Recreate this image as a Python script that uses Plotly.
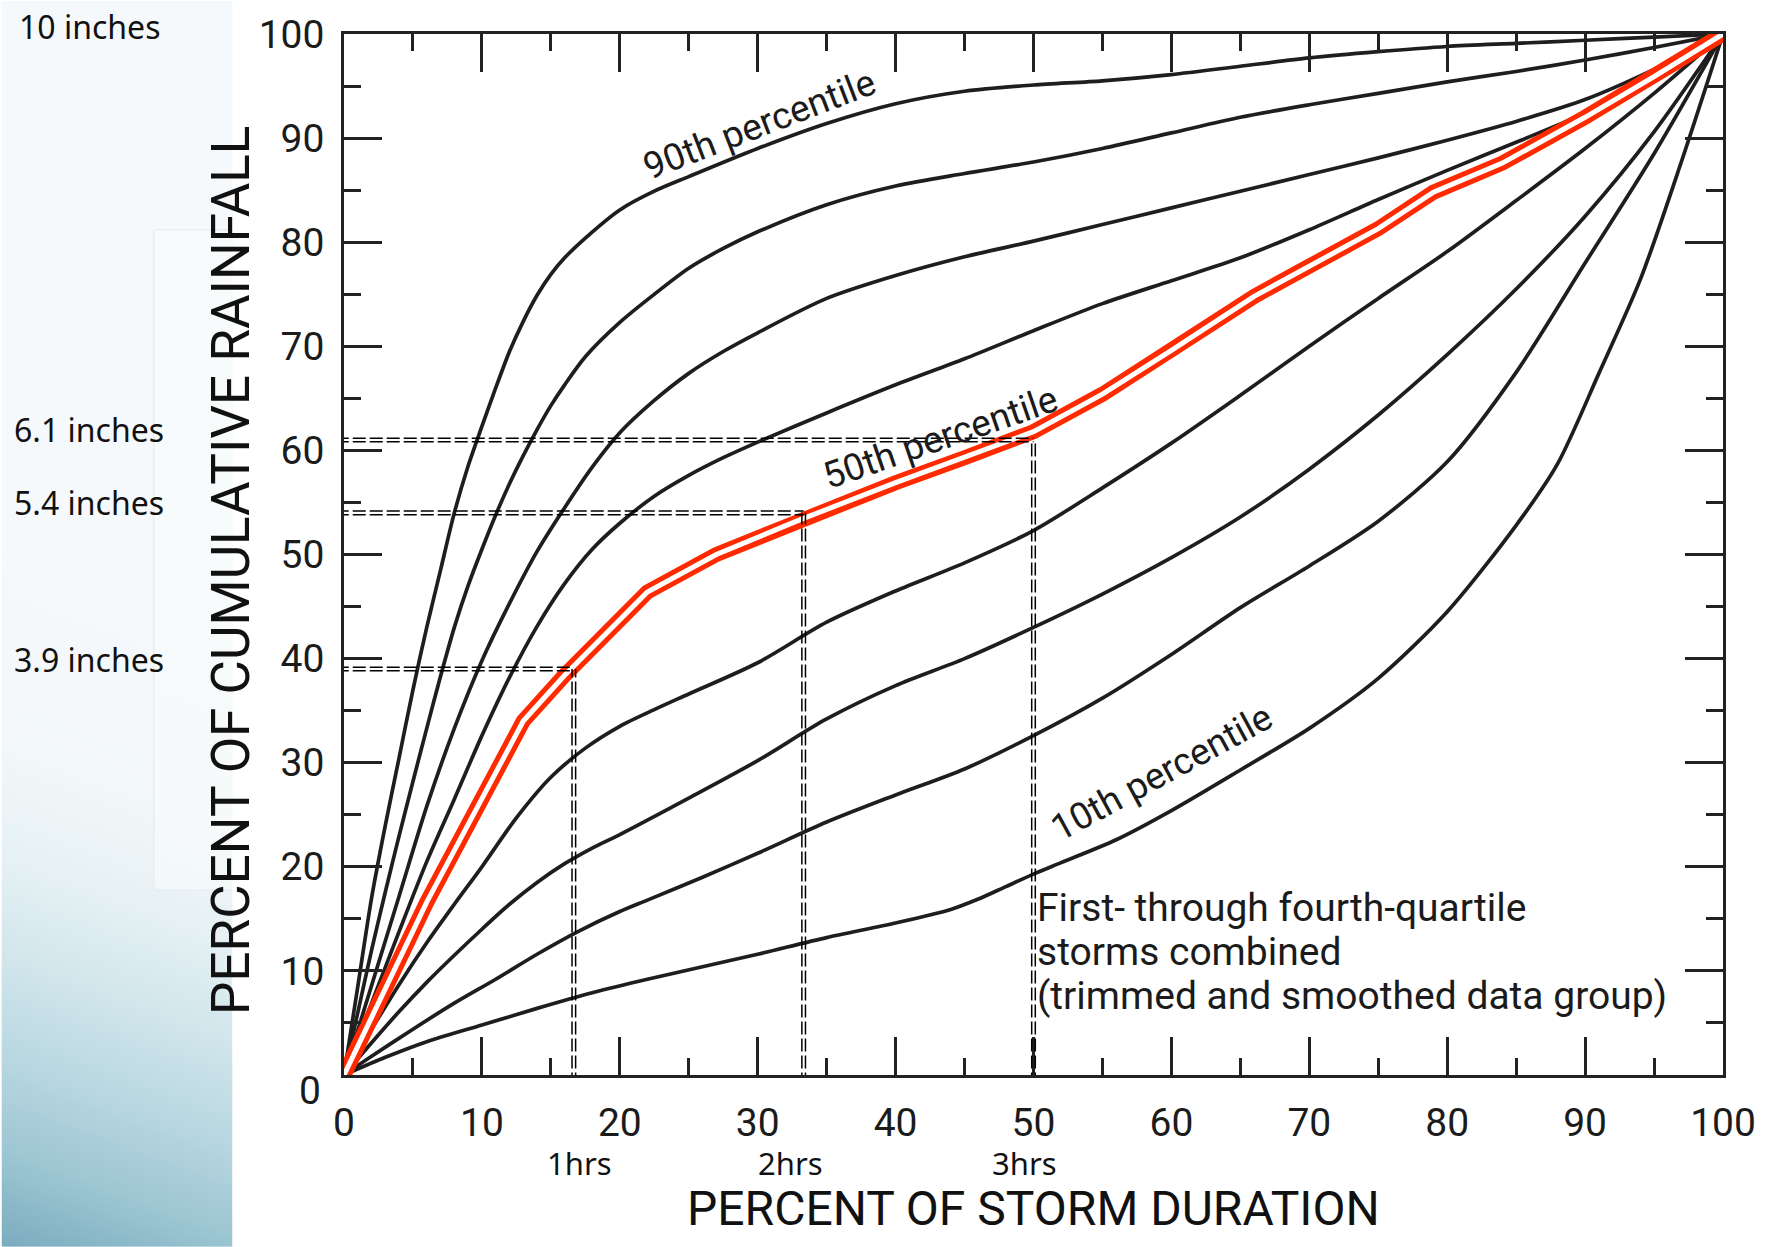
import base64
import plotly.graph_objects as go

# ---------------------------------------------------------------------------
# Cumulative rainfall curves (percent of storm depth vs percent of duration)
# ---------------------------------------------------------------------------
p90_x = [0, 1, 2, 3, 4, 5, 6, 7, 8, 9, 10, 11, 12, 13, 14, 15, 16, 17.5, 20, 22.5, 25,
         30, 35, 40, 45, 50, 55, 60, 65, 70, 75, 80, 85, 90, 95, 100]
p90_y = [0, 8.5, 17, 24, 30.5, 37, 43, 48.5, 54, 58.5, 62.3, 66, 69.5, 72.4, 74.9, 76.9, 78.5,
         80.4, 83.1, 84.9, 86.3, 89, 91.4, 93.3, 94.5, 95.1, 95.5, 96.1, 96.9, 97.7, 98.3,
         98.8, 99.1, 99.4, 99.7, 100]

p80_x = [0, 1, 2, 3, 4, 5, 6, 7, 8, 9, 10, 11, 12, 13, 14, 15, 16, 17.5, 20, 22.5, 25, 27.5,
         30, 35, 40, 45, 50, 55, 60, 65, 70, 75, 80, 85, 90, 95, 100]
p80_y = [0, 6, 12, 17.6, 23, 28.2, 33.3, 38.3, 43, 47, 50.5, 53.8, 56.8, 59.5, 62, 64.3, 66.3,
         69, 72.3, 75, 77.5, 79.4, 81, 83.6, 85.4, 86.6, 87.7, 89, 90.5, 92, 93.2, 94.3, 95.4,
         96.4, 97.5, 98.7, 100]

p70_x = [0, 2, 4, 6, 8, 10, 12, 14, 16, 18, 20, 22.5, 25, 27.5, 30, 35, 40, 45, 50, 55, 60,
         65, 70, 75, 80, 85, 90, 95, 100]
p70_y = [0, 8.6, 17.2, 25.8, 33.3, 39.8, 45.3, 50.3, 54.5, 58.4, 61.7, 64.8, 67.4, 69.5, 71.3,
         74.6, 76.8, 78.6, 80.1, 81.7, 83.3, 84.9, 86.5, 88.1, 89.8, 91.6, 93.7, 96.6, 100]

p60_x = [0, 2, 4, 6, 8, 10, 12, 14, 16, 18, 20, 22.5, 25, 27.5, 30, 35, 40, 45, 50, 55, 60,
         65, 70, 75, 80, 85, 90, 95, 100]
p60_y = [0, 6.9, 13.8, 20.5, 26.5, 32.6, 38.2, 43.1, 47.2, 50.5, 53.0, 55.6, 57.6, 59.3, 60.8,
         63.6, 66.3, 68.8, 71.5, 74.1, 76.3, 78.5, 81.2, 84.1, 86.9, 89.6, 92.4, 95.8, 100]

p50_x = [0, 3, 6, 9.5, 13, 16, 22, 27, 33, 40, 45, 50, 55, 60, 66, 70, 75, 79, 84, 90, 95, 100]
p50_y = [0, 8.4, 16.6, 25.3, 34, 38.4, 46.4, 50, 53.3, 56.9, 59.3, 61.8, 65.4, 69.6, 74.8,
         77.7, 81.3, 84.8, 87.6, 92, 95.9, 100]

p40_x = [0, 2, 4, 6, 8, 10, 12.5, 15, 17.5, 20, 22.5, 25, 30, 35, 40, 45, 50, 55, 60, 65, 70,
         75, 80, 85, 90, 95, 100]
p40_y = [0, 4.4, 8.7, 12.7, 16.4, 20, 24.7, 28.6, 31.4, 33.5, 35.1, 36.6, 39.6, 43.5, 46.5, 49.2,
         52.3, 56.4, 60.7, 65.3, 70.0, 74.6, 79.1, 84.0, 89.0, 94.3, 100]

p30_x = [0, 2, 4, 6, 8, 10, 12, 14, 16, 18, 20, 25, 30, 35, 40, 45, 50, 55, 60, 65, 70, 75, 80,
         85, 90, 95, 100]
p30_y = [0, 3.1, 6.1, 8.9, 11.5, 14, 16.4, 18.5, 20.3, 21.8, 23.1, 26.6, 30.2, 34.2, 37.4, 40.0,
         43.0, 46.2, 49.7, 53.6, 58.2, 63.4, 69.2, 75.5, 82.5, 90.6, 100]

p20_x = [0, 2, 5, 8, 11, 14, 17, 20, 22, 26, 30, 35, 40, 45, 50, 55, 60, 65, 70, 75, 80, 85, 90,
         95, 100]
p20_y = [0, 1.8, 4.4, 6.9, 9.2, 11.6, 13.8, 15.7, 16.8, 19, 21.3, 24.3, 26.9, 29.4, 32.6, 36.2,
         40.4, 44.9, 48.9, 53.2, 58.9, 67.5, 78, 88.5, 100]

p10_x = [0, 3, 6, 10, 14, 18, 22, 26, 30, 35, 40, 44, 46, 48, 50, 52, 56, 60, 65, 70, 75, 80, 85,
         88, 91, 94, 97, 100]
p10_y = [0, 1.7, 3.2, 4.8, 6.4, 7.9, 9.2, 10.4, 11.6, 13.2, 14.6, 15.9, 16.9, 18.1, 19.3, 20.4,
         22.6, 25.4, 29.3, 33.3, 38.1, 44.5, 52.8, 58.7, 67.4, 76.4, 87.8, 100]

curves = [(p90_x, p90_y), (p80_x, p80_y), (p70_x, p70_y), (p60_x, p60_y), (p50_x, p50_y),
          (p40_x, p40_y), (p30_x, p30_y), (p20_x, p20_y), (p10_x, p10_y)]

# Design storm read against the median curve: 10-inch, 6-hour storm
storm_depth_in = 10
storm_hours = 6
hours = [1, 2, 3]
depths_in = [3.9, 5.4, 6.1]

axis_ticks = list(range(0, 101, 10))

# ---------------------------------------------------------------------------
NARROW = "Roboto, Liberation Sans Narrow, Arial Narrow, sans-serif"
PLAIN = "Noto Sans, Open Sans, sans-serif"
INK = "#1b1b1b"
W, H = 1768, 1247
ML, MR, MT, MB = 344, 39, 33, 172
PW, PH = W - ML - MR, H - MT - MB

fig = go.Figure()

for cx, cy in curves:
    fig.add_trace(go.Scatter(
        x=cx, y=cy, mode="lines", hoverinfo="skip",
        line=dict(color="#1e1e1e", width=3.7, shape="spline", smoothing=0.8),
    ))

# highlighted median curve drawn as a red double line
fig.add_trace(go.Scatter(x=p50_x, y=p50_y, mode="lines", hoverinfo="skip",
                         line=dict(color="#ff2a00", width=15)))
fig.add_trace(go.Scatter(x=p50_x, y=p50_y, mode="lines", hoverinfo="skip",
                         line=dict(color="#ffffff", width=5)))

shapes = []
annotations = []
dash = dict(color="#000000", width=1.5, dash="13px,4px")
for h, d, xs in zip(hours, depths_in, [6, -13, -9]):
    hx = h / storm_hours * 100
    dy = d / storm_depth_in * 100
    for off in (-1.8, 1.8):
        shapes.append(dict(type="line", xref="x", yref="y", xsizemode="pixel", xanchor=hx,
                           x0=off, x1=off, y0=-1, y1=dy, line=dash))
        shapes.append(dict(type="line", xref="x", yref="y", ysizemode="pixel", yanchor=dy,
                           y0=off, y1=off, x0=-0.6, x1=hx, line=dash))
    annotations.append(dict(text=f"{h}hrs", x=hx, xref="x", y=(MT + PH - 1163) / PH,
                            yref="paper", xshift=xs, showarrow=False, xanchor="center",
                            yanchor="middle",
                            font=dict(family=PLAIN, size=31, color="#111111")))
    annotations.append(dict(text=f"{d} inches", x=-0.1848, xref="paper", y=dy, yref="y",
                            yshift=10, showarrow=False, xanchor="center", yanchor="middle",
                            font=dict(family=PLAIN, size=32, color="#111111")))

annotations.append(dict(text=f"{storm_depth_in} inches", x=-0.1848, xref="paper", y=100,
                        yref="y", yshift=8, showarrow=False, xanchor="center",
                        yanchor="middle", font=dict(family=PLAIN, size=32, color="#111111")))

# y-axis zero label sits a little below the corner
annotations.append(dict(text="0", x=0, xref="x", y=0, yref="y", xshift=-21, yshift=-16,
                        showarrow=False, xanchor="right", yanchor="middle",
                        font=dict(family=NARROW, size=39, color=INK)))

# curve labels
for txt, x, y, ang in [("90th percentile", 30.1, 91.3, -21),
                       ("50th percentile", 43.25, 61.2, -19),
                       ("10th percentile", 59.3, 29.1, -28.5)]:
    annotations.append(dict(text=txt, x=x, y=y, xref="x", yref="y", textangle=ang,
                            showarrow=False, xanchor="center", yanchor="middle",
                            font=dict(family=NARROW, size=37, color=INK)))

for line, y in [("First- through fourth-quartile", 16.0),
                ("storms combined", 11.8),
                ("(trimmed and smoothed data group)", 7.6)]:
    annotations.append(dict(text=line, x=50.1, y=y, xref="x", yref="y", showarrow=False,
                            xanchor="left", yanchor="middle",
                            font=dict(family=NARROW, size=39, color=INK)))

# axis titles
annotations.append(dict(text="PERCENT OF CUMULATIVE RAINFALL", textangle=-90,
                        x=(231 - ML) / PW, y=(MT + PH - 570) / PH, xref="paper", yref="paper",
                        showarrow=False, xanchor="center", yanchor="middle",
                        font=dict(family=NARROW, size=53, color="#111111")))
annotations.append(dict(text="PERCENT OF STORM DURATION", x=0.5, y=(MT + PH - 1209) / PH,
                        xref="paper", yref="paper", showarrow=False, xanchor="center",
                        yanchor="middle", font=dict(family=NARROW, size=48, color="#111111")))

# soft blue side panel on the far left
panel_svg = """<svg xmlns="http://www.w3.org/2000/svg" width="232" height="1247" viewBox="0 0 232 1247" preserveAspectRatio="none">
<defs><linearGradient id="g" gradientUnits="userSpaceOnUse" x1="232" y1="620" x2="0" y2="1247">
<stop offset="0" stop-color="#f6f9fb"/><stop offset="0.3" stop-color="#f2f7f9"/>
<stop offset="0.45" stop-color="#e6f1f4"/><stop offset="0.6" stop-color="#d0e5eb"/>
<stop offset="0.75" stop-color="#b5d5df"/><stop offset="0.87" stop-color="#9cc5d2"/>
<stop offset="1" stop-color="#7aacbe"/></linearGradient></defs>
<rect width="232" height="1247" fill="#f5f9fb"/>
<rect width="232" height="1247" fill="url(#g)"/>
<rect x="153" y="229" width="90" height="661" rx="3" fill="#f8fbfc" fill-opacity="0.6" stroke="#e6ecef" stroke-width="1.2"/>
</svg>"""
panel_src = "data:image/svg+xml;base64," + base64.b64encode(panel_svg.encode()).decode()

axis_common = dict(
    range=[0, 100], tickvals=axis_ticks, ticks="inside", ticklen=38, tickwidth=3,
    tickcolor="#222222", showline=True, linewidth=2.5, linecolor="#222222", mirror="ticks",
    showgrid=False, zeroline=False, fixedrange=True,
    tickfont=dict(family=NARROW, size=39, color=INK),
    minor=dict(dtick=5, tick0=0, ticks="inside", ticklen=17, tickwidth=3,
               tickcolor="#222222", showgrid=False),
)

fig.update_layout(
    width=W, height=H, margin=dict(l=ML, r=MR, t=MT, b=MB),
    paper_bgcolor="#ffffff", plot_bgcolor="#ffffff", showlegend=False,
    xaxis=dict(axis_common, ticklabelstandoff=11),
    yaxis=dict(axis_common, ticktext=[""] + [str(v) for v in axis_ticks[1:]],
               ticklabelstandoff=9),
    shapes=shapes, annotations=annotations,
    images=[dict(source=panel_src, xref="paper", yref="paper", x=-ML / PW, y=1 + MT / PH,
                 sizex=232 / PW, sizey=H / PH, xanchor="left", yanchor="top",
                 sizing="stretch", layer="below")],
)

fig.write_html("out.html")
